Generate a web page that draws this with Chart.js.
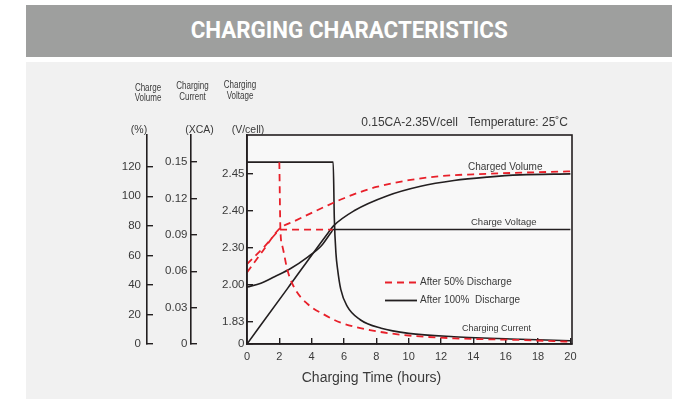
<!DOCTYPE html>
<html>
<head>
<meta charset="utf-8">
<script src="https://cdn.jsdelivr.net/npm/chart.js@4"></script>
<style>
  body { margin: 0; background: #fff; }
  #head {
    position: absolute; left: 26px; top: 5px; width: 646px; height: 52px;
    background: #9e9f9e; color: #fff; text-align: center;
    font: bold 23px Roboto, Arial, sans-serif; line-height: 52px;
  }
  #head span { display: inline-block; transform-origin: center; }
  #panel { position: absolute; left: 26px; top: 62px; width: 646px; height: 337px; background: #f1f1f1; }
  canvas { position: absolute; left: 0; top: 0; }
</style>
</head>
<body>
<div id="head"><span id="title">CHARGING CHARACTERISTICS</span></div>
<div id="panel"></div>
<canvas id="chargeChart" width="686" height="399"></canvas>
<script>
// tick labels of the axes
const hourTicks = [0, 2, 4, 6, 8, 10, 12, 14, 16, 18, 20];
const pctTicks = [0, 20, 40, 60, 80, 100, 120];
const currentTicks = [0, 0.03, 0.06, 0.09, 0.12, 0.15];
const voltTicks = [0, 1.83, 2.00, 2.30, 2.40, 2.45];
const voltLabels = ["0", "1.83", "2.00", "2.30", "2.40", "2.45"];

// charged volume (%)
const vol100Hours = [0, 2.5, 5, 5.35, 6.62, 8.69, 10.74, 12.8, 14.86, 16.9, 20];
const vol100Pct = [0, 37.5, 75, 80, 90.2, 100.4, 106.8, 110.7, 113, 114.5, 115.2];
const vol50Hours = [0, 1, 2, 3, 4, 5, 6, 7, 8, 10, 12, 14, 17, 20];
const vol50Pct = [48.5, 63.3, 78, 83.5, 88.8, 93.9, 98.7, 102.9, 106.3, 110.9, 113.7, 114.9, 116, 116.9];

// charging current (xCA)
const cur100Hours = [0, 5.33, 5.4, 5.5, 5.6, 5.8, 6.2, 7, 8.3, 10, 12.8, 16.9, 20];
const cur100Ca = [0.15, 0.15, 0.104, 0.075, 0.062, 0.045, 0.031, 0.02, 0.013, 0.0088, 0.006, 0.0039, 0.0027];
const cur50Hours = [2, 2.07, 2.2, 2.5, 2.9, 3.75, 4.8, 5.8, 7.6, 9.7, 12.8, 16.9, 20];
const cur50Ca = [0.15, 0.093, 0.08, 0.061, 0.047, 0.033, 0.024, 0.0176, 0.0115, 0.0074, 0.0047, 0.0033, 0.0019];

// charging voltage (V/cell)
const volt100Hours = [0, 0.86, 1.7, 2.7, 3.75, 4.6, 5.2, 5.35, 20];
const volt100V = [1.99, 2.014, 2.067, 2.133, 2.226, 2.306, 2.342, 2.35, 2.35];
const volt50Hours = [0, 1, 2, 5.3];
const volt50V = [2.17, 2.30, 2.35, 2.35];

const red = "#e8202a";
const ink = "#231f20";
const txt = "#3a3a3a";

// the printed volt axis is broken: the first gap is short, the others are one step each
const voltGaps = [0.6, 1, 1, 1, 1];
function voltToAxis(v) {
  let pos = 0;
  for (let i = 1; i < voltTicks.length; i++) {
    const lo = voltTicks[i - 1], hi = voltTicks[i];
    if (v <= hi || i === voltTicks.length - 1) {
      return pos + voltGaps[i - 1] * (v - lo) / (hi - lo);
    }
    pos += voltGaps[i - 1];
  }
}

function pts(xs, ys, f) {
  return xs.map((x, i) => ({ x: x, y: f ? f(ys[i]) : ys[i] }));
}

function serie(data, axis, color, dashed, smooth) {
  return {
    data: data,
    yAxisID: axis,
    borderColor: color,
    borderWidth: dashed ? 1.8 : 1.6,
    borderDash: dashed ? [7, 5] : [],
    pointRadius: 0,
    fill: false,
    tension: 0,
    cubicInterpolationMode: smooth ? "monotone" : "default",
  };
}

function yAxis(ticks, max, weight, width, pad, labelFn) {
  return {
    type: "linear",
    position: "left",
    weight: weight,
    min: 0,
    max: max,
    afterBuildTicks: (s) => { s.ticks = ticks.map((v) => ({ value: v })); },
    afterFit: (s) => { s.width = width; },
    border: { display: true, color: ink, width: 1.6 },
    grid: { drawOnChartArea: false, drawTicks: true, tickLength: -6, color: ink, lineWidth: 1.4 },
    ticks: { color: txt, padding: pad, font: { size: 11.5 }, callback: labelFn },
  };
}

const texts = {
  id: "texts",
  beforeDraw(chart) {
    const { ctx, chartArea: a } = chart;
    ctx.save();
    ctx.fillStyle = "#f8f8f8";
    ctx.fillRect(a.left, a.top, a.right - a.left, a.bottom - a.top);
    ctx.restore();
  },
  afterDraw(chart) {
    const { ctx, chartArea: a, scales } = chart;
    ctx.save();
    ctx.strokeStyle = ink;
    ctx.lineWidth = 1.6;
    ctx.strokeRect(a.left, a.top, a.right - a.left, a.bottom - a.top);

    ctx.fillStyle = txt;
    ctx.textBaseline = "middle";
    const put = (s, x, y, font, align) => {
      ctx.font = font;
      ctx.textAlign = align || "center";
      ctx.fillText(s, x, y);
    };
    // condensed header words above the axes
    const narrow = (s, x, y) => {
      ctx.save();
      ctx.translate(x, y);
      ctx.scale(0.8, 1);
      put(s, 0, 0, "10px Liberation Sans");
      ctx.restore();
    };
    const p = scales.pct.right, c = scales.cur.right, v = scales.volt.right;
    narrow("Charge", p + 1, 88);
    narrow("Volume", p + 1, 98.5);
    narrow("Charging", c + 1.5, 86.5);
    narrow("Current", c + 1.5, 97);
    narrow("Charging", v - 7, 85);
    narrow("Voltage", v - 7, 96);
    put("(%)", p - 8, 130, "10.5px Liberation Sans");
    put("(XCA)", c + 8.5, 130, "10.5px Liberation Sans");
    put("(V/cell)", v + 1, 130, "10.5px Liberation Sans");

    put("0.15CA-2.35V/cell   Temperature: 25˚C", a.right - 4, 123, "12px Liberation Sans", "right");
    put("Charged Volume", 468, 167, "10px Liberation Sans", "left");
    put("Charge Voltage", 471, 222, "9.5px Liberation Sans", "left");
    put("Charging Current", 462, 329, "9px Liberation Sans", "left");
    put("Charging Time (hours)", 371.5, 378, "14px Liberation Sans");

    // legend
    const rows = [
      { label: "After 50% Discharge", color: red, dash: [7, 5], y: 282.5 },
      { label: "After 100%  Discharge", color: ink, dash: [], y: 300.5 },
    ];
    rows.forEach((r) => {
      ctx.strokeStyle = r.color;
      ctx.lineWidth = 1.8;
      ctx.setLineDash(r.dash);
      ctx.beginPath();
      ctx.moveTo(385, r.y);
      ctx.lineTo(417, r.y);
      ctx.stroke();
      put(r.label, 420, r.y, "10px Liberation Sans", "left");
    });
    ctx.restore();
  },
};

// squeeze the header text to the condensed width of the original
const title = document.getElementById("title");
title.style.transform = "scaleX(" + (317 / title.getBoundingClientRect().width) + ")";

Chart.defaults.font.family = '"Liberation Sans", Arial, sans-serif';

const ctx = document.getElementById("chargeChart").getContext("2d");
new Chart(ctx, {
  type: "line",
  data: {
    datasets: [
      serie(pts(cur50Hours, cur50Ca), "cur", red, true, true),
      serie(pts(vol50Hours, vol50Pct), "pct", red, true, true),
      serie(pts(volt50Hours, volt50V, voltToAxis), "volt", red, true, false),
      serie(pts(cur100Hours, cur100Ca), "cur", ink, false, true),
      serie(pts(vol100Hours, vol100Pct), "pct", ink, false, true),
      serie(pts(volt100Hours, volt100V, voltToAxis), "volt", ink, false, true),
    ],
  },
  options: {
    responsive: false,
    animation: false,
    layout: { padding: { left: 0, top: 135, right: 114, bottom: 0 } },
    plugins: { legend: { display: false }, tooltip: { enabled: false } },
    scales: {
      x: {
        type: "linear",
        position: "bottom",
        min: 0,
        max: 20.1,
        afterBuildTicks: (s) => { s.ticks = hourTicks.map((v) => ({ value: v })); },
        afterFit: (s) => { s.height = 55; },
        border: { display: true, color: ink, width: 1.6 },
        grid: { drawOnChartArea: false, drawTicks: true, tickLength: -6, color: ink, lineWidth: 1.4 },
        ticks: { color: txt, padding: 12, font: { size: 11 }, maxRotation: 0 },
      },
      pct: yAxis(pctTicks, 141.5, 3, 147, 12, (val) => val),
      cur: yAxis(currentTicks, 0.1724, 2, 44, 9.5, (val) => (val === 0 ? "0" : val.toFixed(2))),
      volt: yAxis(voltTicks.map(voltToAxis), 5.66, 1, 56, 8.5, (val, i) => voltLabels[i]),
    },
  },
  plugins: [texts],
});
</script>
</body>
</html>
